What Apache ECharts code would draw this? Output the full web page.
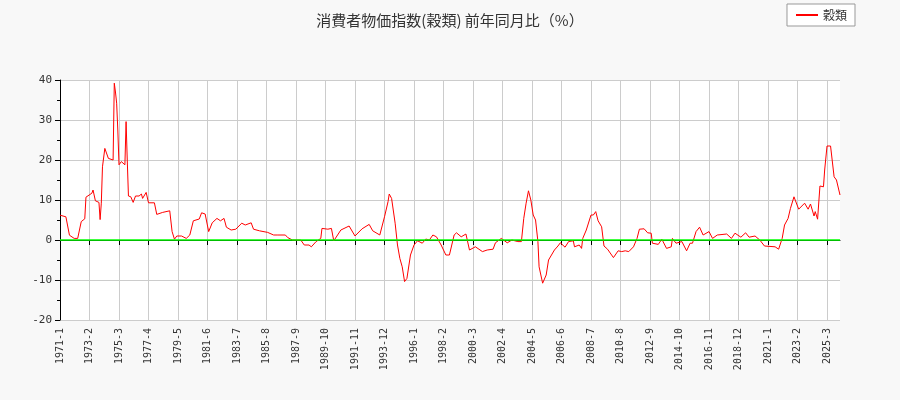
<!DOCTYPE html>
<html><head><meta charset="utf-8">
<script src="https://cdn.jsdelivr.net/npm/echarts@6/dist/echarts.min.js"></script>
<style>html,body{margin:0;padding:0;background:#f8f8f8}#c{width:900px;height:400px}</style>
</head><body><div id="c"></div>
<script>
// months since 1971-01 (index 0) and the value read at that month
const monthIdx = [0,1,5,8,12,15,18,21,22,27,28,30,33,34,35,36,38,41,45,46,47,48,49,50,52,55,56,57,58,60,62,64,67,69,70,73,75,80,82,87,93,95,97,99,103,107,110,113,118,120,123,126,129,133,136,139,141,145,149,150,154,157,162,164,169,176,181,184,191,193,197,204,207,211,213,217,221,222,227,230,232,238,245,250,256,262,265,271,275,278,279,281,284,286,288,290,292,294,297,300,303,307,310,313,316,319,323,327,330,334,336,340,344,347,352,358,362,367,369,374,379,383,388,391,393,395,397,399,401,403,405,406,409,412,414,419,422,424,428,431,435,436,440,442,443,446,450,452,454,456,459,461,464,469,473,476,479,482,486,489,491,495,498,501,502,507,510,514,518,519,522,527,531,534,536,539,542,545,550,553,557,565,569,572,577,581,584,589,593,597,606,609,612,614,617,619,622,623,626,631,634,636,639,640,642,644,647,648,650,653,656,658,661];
const values   = [6.2,6.2,5.8,1.2,0.4,0.4,4.6,5.3,10.7,11.7,12.5,9.8,9.4,5.1,9.2,18.3,22.9,20.4,20,39.2,37,34.2,27.5,18.8,19.6,18.8,29.6,20,11,10.8,9.4,11,11,11.5,10.4,11.9,9.3,9.3,6.4,6.9,7.3,2.1,0.2,1.0,1.0,0.4,1.25,4.8,5.25,6.8,6.5,2.1,4.3,5.4,4.8,5.4,3.2,2.5,2.7,2.3,4.2,3.75,4.3,2.7,2.3,1.9,1.25,1.25,1.25,0.6,0,0,-1.25,-1.25,-1.7,-0.4,0.4,2.9,2.7,2.9,-0.2,2.5,3.5,1.0,2.8,3.9,2.3,1.25,5.8,9.6,11.5,10.4,4.2,-1.25,-4.6,-6.7,-10.4,-9.6,-3.75,-1.25,-0.2,-0.8,0.25,0,1.25,0.8,-1.25,-3.75,-3.75,1.25,1.8,0.8,1.5,-2.5,-1.7,-2.9,-2.5,-2.3,-0.7,0.4,-0.7,0,-0.4,-0.4,5.4,9.2,12.3,10,6.25,5,-0.4,-6.7,-10.8,-8.75,-5,-2.5,-1.5,-0.7,-1.8,-0.4,-0.2,-1.7,-1.25,-2.1,0.4,2.5,6.25,6.25,7.1,4.8,3.3,-1.5,-2.3,-4.4,-2.7,-2.9,-2.7,-2.9,-1.7,0.4,2.7,2.8,1.8,1.7,-0.8,-1.1,0.2,-2.1,-1.7,0.4,-0.8,-0.4,-2.7,-0.8,-0.8,2.1,3.2,1.25,2.1,0.4,1.25,1.5,0.4,1.7,0.7,1.8,0.7,1.0,0,-1.5,-1.7,-2.3,0.4,3.75,5.4,7.9,10.8,10.4,7.7,9.2,7.7,9.0,6,7.1,5.2,13.5,13.3,17.5,23.5,23.5,15.8,15,11.25];
const yTicks = [-20,-10,0,10,20,30,40];
const startYear = 1971, nMonths = 662;
const categories = [];
for (let i = 0; i < nMonths; i++) categories.push((startYear + Math.floor(i/12)) + '-' + (i%12+1));
const seriesData = monthIdx.map((m,k)=>[m, values[k]]);
const chart = echarts.init(document.getElementById('c'));
chart.setOption({
  backgroundColor:'#f8f8f8',
  animation:false,
  title:{text:'消費者物価指数(穀類) 前年同月比（%）',left:'center',top:8,textStyle:{fontSize:15,fontWeight:'normal',color:'#333',fontFamily:'Noto Sans CJK JP'}},
  legend:{data:['穀類'],right:45,top:4,backgroundColor:'#fff',borderColor:'#999',borderWidth:1,padding:[5,8],itemWidth:22,itemHeight:2,textStyle:{fontSize:12,color:'#333',fontFamily:'Noto Sans CJK JP'}},
  grid:{left:60,right:60,top:80,bottom:80,show:true,backgroundColor:'#fff',borderWidth:0},
  xAxis:{type:'category',data:categories,boundaryGap:false,
    axisLine:{lineStyle:{color:'#000'}},
    axisTick:{interval:24,lineStyle:{color:'#000'}},
    axisLabel:{interval:24,rotate:90,fontSize:10,color:'#333',fontFamily:'DejaVu Sans Mono'},
    splitLine:{show:true,interval:24,lineStyle:{color:'#ccc'}}},
  yAxis:{type:'value',min:-20,max:40,interval:10,
    axisLine:{show:true,lineStyle:{color:'#000'}},
    axisTick:{show:true,lineStyle:{color:'#000'}},
    minorTick:{show:true,splitNumber:2,lineStyle:{color:'#000'}},
    axisLabel:{fontSize:11,color:'#333',fontFamily:'DejaVu Sans Mono'},
    splitLine:{lineStyle:{color:'#ccc'}}},
  series:[{name:'穀類',type:'line',data:seriesData,symbol:'none',step:false,
    lineStyle:{color:'#ff0000',width:1},itemStyle:{color:'#ff0000'},
    markLine:{silent:true,symbol:'none',label:{show:false},lineStyle:{color:'#00ff00',width:1.5,type:'solid'},data:[{yAxis:0}]}}]
});
</script></body></html>
